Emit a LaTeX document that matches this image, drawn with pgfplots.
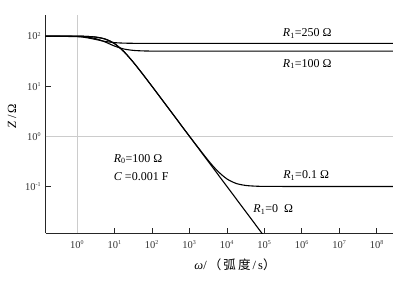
\documentclass[border=0pt]{standalone}
\usepackage{pgfplots}
\pgfplotsset{compat=1.18}
\usepackage{fontspec}
\setmainfont{Liberation Serif}
\newfontfamily\cjk{Noto Sans CJK SC}
\newcommand{\ssup}[1]{\textsuperscript{\fontsize{6}{7}\selectfont #1}}
\begin{document}
\begin{tikzpicture}
\begin{axis}[name=ax, scale only axis, width=347pt, height=218pt,
  xmode=log, ymode=log,
  xmin=0.146, xmax=2.7e8, ymin=0.0117, ymax=263,
  axis lines=left,
  axis line style={-, line width=0.8pt, black!85},
  xminorticks=false, yminorticks=false,
  tick align=inside, major tick length=5pt,
  tick style={black!85, line width=0.8pt},
  xtick={1,10,100,1000,1e4,1e5,1e6,1e7,1e8},
  xticklabels={10\ssup{0},10\ssup{1},10\ssup{2},10\ssup{3},10\ssup{4},10\ssup{5},10\ssup{6},10\ssup{7},10\ssup{8}},
  ytick={0.1,1,10,100},
  yticklabels={10\ssup{-1},10\ssup{0},10\ssup{1},10\ssup{2}},
  ticklabel style={font=\fontsize{10.5}{12}\selectfont, text=black!80},
  xticklabel style={yshift=-4pt},
  yticklabel style={xshift=-1pt},
  extra x ticks={1}, extra x tick labels={},
  extra x tick style={grid=major, major grid style={gray!40, line width=0.6pt}, major tick length=0pt},
  extra y ticks={1}, extra y tick labels={},
  extra y tick style={grid=major, major grid style={gray!40, line width=0.6pt}, major tick length=0pt},
  xlabel={\textit{ω}/\,{\cjk （\,弧\,度}\,/\,s{\cjk ）}},
  xlabel style={at={(axis description cs:0.545,-0.147)}, anchor=center, font=\fontsize{12.5}{14}\selectfont},
  ylabel={\textit{Z}\,/\,Ω},
  ylabel style={at={(axis description cs:-0.097,0.537)}, anchor=center, font=\fontsize{12.5}{14}\selectfont},
  every axis plot/.append style={black, line width=1.1pt, no markers},
]
% R1 = 0
\addplot+[smooth, black, no markers] coordinates {(0.146,99.99) (1,99.50) (1.778,98.45) (3.162,95.35) (5.623,87.16) (10,70.71) (17.78,49.02) (31.62,30.15) (56.23,17.51) (100,9.95) (316.2,3.16) (1000,1.0) (1e4,0.1) (1e5,0.01)};
% R1 = 0.1
\addplot+[smooth, black, no markers] coordinates {(0.146,99.99) (1,99.50) (1.778,98.46) (3.162,95.34) (5.623,87.14) (10,70.68) (17.78,48.98) (31.62,30.12) (56.23,17.49) (100,9.94) (316.2,3.16) (1000,1.004) (3162,0.3314) (5623,0.2038) (1e4,0.1413) (17783,0.1146) (31623,0.1048) (56234,0.1015) (1e5,0.1004) (1e6,0.0999) (2.7e8,0.0999)};
% R1 = 100
\addplot+[smooth, black, no markers] coordinates {(0.146,99.97) (1,98.55) (1.778,95.69) (3.162,88.64) (5.623,76.23) (10,63.25) (17.78,55.22) (31.62,51.80) (56.23,50.58) (100,50.19) (1000,50.00) (2.7e8,50.00)};
% R1 = 250
\addplot+[smooth, black, no markers] coordinates {(0.146,99.94) (1,97.29) (1.778,92.91) (3.162,85.46) (5.623,78.15) (10,73.97) (17.78,72.29) (31.62,71.71) (100,71.46) (1000,71.43) (2.7e8,71.43)};
\node[font=\fontsize{12}{14}\selectfont] at (axis description cs:0.753,0.917) {\textit{R}\textsubscript{1}=250 Ω};
\node[font=\fontsize{12}{14}\selectfont] at (axis description cs:0.753,0.775) {\textit{R}\textsubscript{1}=100 Ω};
\node[font=\fontsize{12}{14}\selectfont] at (axis description cs:0.750,0.266) {\textit{R}\textsubscript{1}=0.1 Ω};
\node[font=\fontsize{12}{14}\selectfont] at (axis description cs:0.655,0.110) {\textit{R}\textsubscript{1}=0 \ Ω};
\node[font=\fontsize{12}{14}\selectfont, anchor=west] at (axis description cs:0.186,0.340) {\textit{R}\textsubscript{0}=100 Ω};
\node[font=\fontsize{12}{14}\selectfont, anchor=west] at (axis description cs:0.186,0.261) {\textit{C} =0.001 F};
\end{axis}
\pgfresetboundingbox
\path ([shift={(-45.7pt,-50pt)}]ax.south west) rectangle ([shift={(9pt,15pt)}]ax.north east);
\end{tikzpicture}
\end{document}
